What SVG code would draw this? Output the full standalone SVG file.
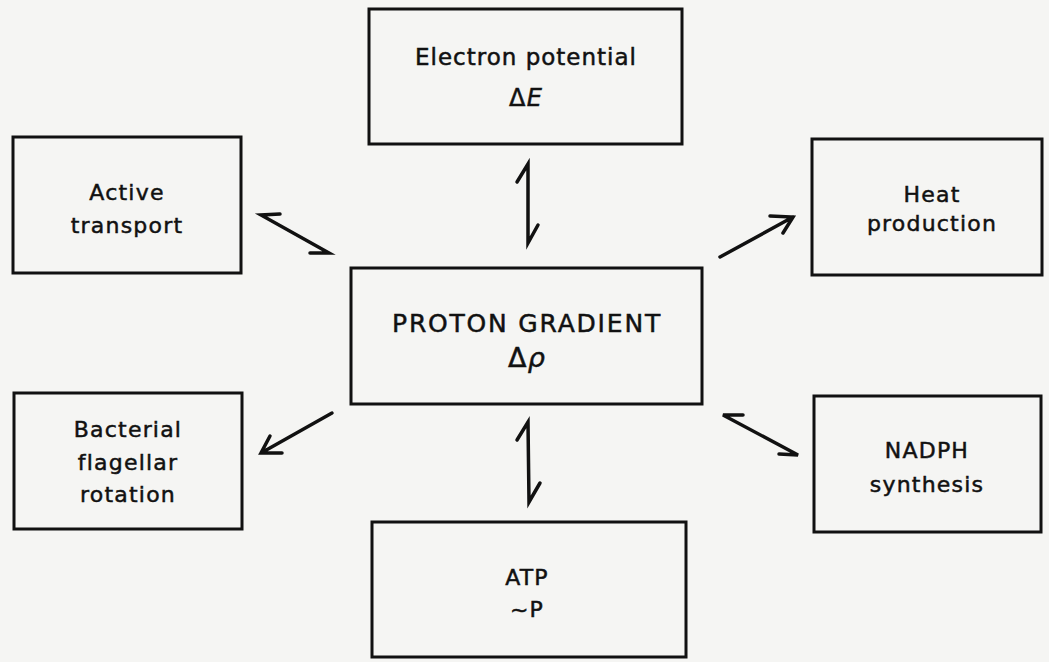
<svg xmlns="http://www.w3.org/2000/svg" width="1049" height="662" viewBox="0 0 1049 662">
<style>
.box{fill:none;stroke:#111;stroke-width:3}
.t{font-family:"DejaVu Sans","Liberation Sans",sans-serif;font-size:22px;fill:#111;stroke:#111;stroke-width:0.5px;text-anchor:middle;letter-spacing:1.2px}
.c{fill:none;stroke:#111;stroke-width:3.5;stroke-linecap:round;stroke-linejoin:miter}
</style>
<rect width="1049" height="662" fill="#f5f5f3"/>
<g id="electron">
<rect class="box" x="369" y="9" width="313" height="135"/>
<text class="t" x="526" y="65" style="font-size:23px;letter-spacing:1px">Electron potential</text>
<text class="t" x="526" y="106" style="font-size:24px">Δ<tspan font-style="italic">E</tspan></text>
</g>
<g id="active">
<rect class="box" x="13" y="137" width="228" height="136"/>
<text class="t" x="127" y="200">Active</text>
<text class="t" x="127" y="233">transport</text>
</g>
<g id="heat">
<rect class="box" x="812" y="139" width="230" height="136"/>
<text class="t" x="932" y="202">Heat</text>
<text class="t" x="932" y="231">production</text>
</g>
<g id="proton">
<rect class="box" x="351" y="268" width="351" height="136"/>
<text class="t" x="527" y="332" style="font-size:25px;letter-spacing:1.8px">PROTON GRADIENT</text>
<text class="t" x="527" y="367" style="font-size:27px">Δ<tspan font-style="italic">ρ</tspan></text>
</g>
<g id="bacterial">
<rect class="box" x="14" y="393" width="228" height="136"/>
<text class="t" x="128" y="437">Bacterial</text>
<text class="t" x="128" y="470">flagellar</text>
<text class="t" x="128" y="502">rotation</text>
</g>
<g id="nadph">
<rect class="box" x="814" y="396" width="227" height="136"/>
<text class="t" x="927" y="458">NADPH</text>
<text class="t" x="927" y="492">synthesis</text>
</g>
<g id="atp">
<rect class="box" x="372" y="522" width="314" height="135"/>
<text class="t" x="527" y="585">ATP</text>
<text class="t" x="527" y="617">~P</text>
</g>
<g id="connectors">
<path class="c" d="M517,182 L528,164 L528,243 L538,225"/>
<path class="c" d="M517,440 L528,422 L529,502 L540,483"/>
<path class="c" d="M280,214 L261,215 L329,253 L310,253"/>
<path class="c" d="M743,415 L723,415 L798,455 L779,454"/>
<path class="c" d="M720,257 L793,217 M770,216 L793,217 L783,233"/>
<path class="c" d="M332,413 L261,453 M270,436 L261,453 L282,453"/>
</g>
</svg>
